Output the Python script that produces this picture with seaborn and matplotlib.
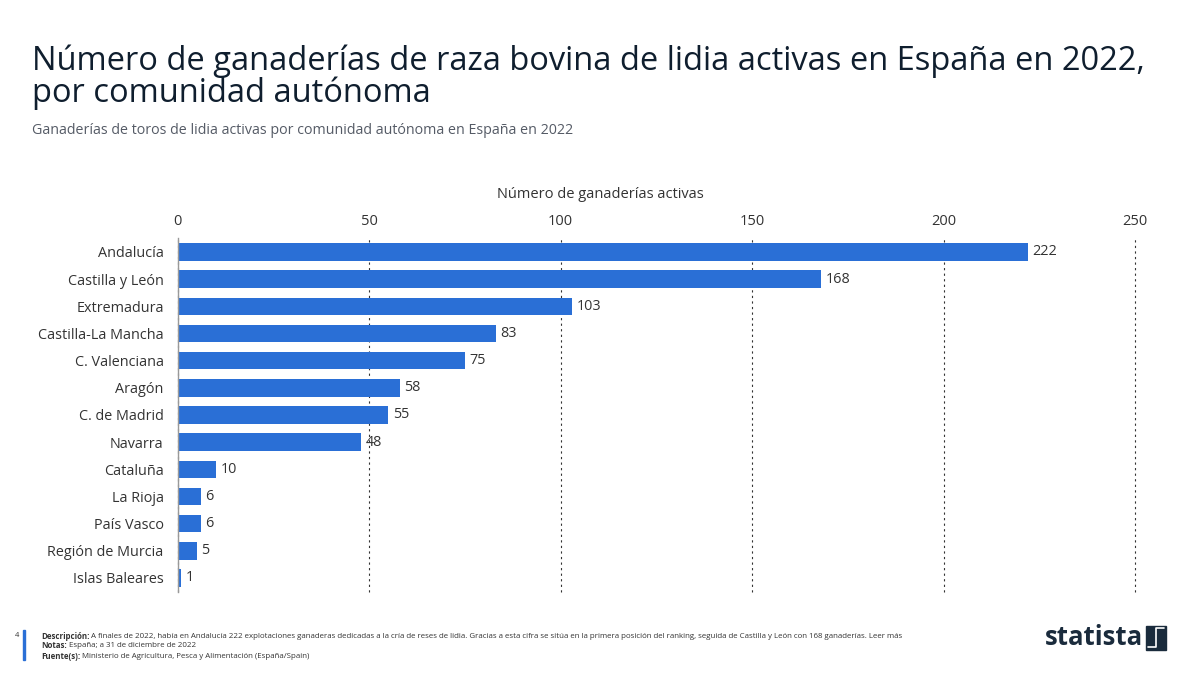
import matplotlib
matplotlib.use("Agg")
import matplotlib.pyplot as plt
import seaborn as sns
import pandas as pd

categories = ["Andalucía", "Castilla y León", "Extremadura", "Castilla-La Mancha",
              "C. Valenciana", "Aragón", "C. de Madrid", "Navarra", "Cataluña",
              "La Rioja", "País Vasco", "Región de Murcia", "Islas Baleares"]
values = [222, 168, 103, 83, 75, 58, 55, 48, 10, 6, 6, 5, 1]
x_ticks = [0, 50, 100, 150, 200, 250]

sns.set_theme(style="white")
plt.rcParams['font.family'] = ['Open Sans', 'DejaVu Sans']

df = pd.DataFrame({"cat": categories, "val": values})

fig = plt.figure(figsize=(12, 6.75), dpi=100)
ax = fig.add_axes([0.148, 0.1236, 0.798, 0.5232])

sns.barplot(data=df, x="val", y="cat", color="#2a6fd6", saturation=1,
            width=0.64, ax=ax, orient="h", linewidth=0)

ax.set_xlim(0, 250)
ax.set_xticks(x_ticks)
ax.xaxis.tick_top()
ax.xaxis.set_label_position("top")
ax.set_xlabel("Número de ganaderías activas", fontsize=10.5, color="#333333", labelpad=8)
ax.xaxis.set_label_coords(0.441, 1.115)
ax.set_ylabel("")
ax.tick_params(axis="x", length=0, labelsize=10.5, labelcolor="#333333", pad=7)
ax.tick_params(axis="y", length=0, labelsize=10.4, labelcolor="#333333", pad=10)
for s in ["top", "right", "bottom"]:
    ax.spines[s].set_visible(False)
ax.spines["left"].set_color("#999999")
ax.spines["left"].set_linewidth(1)
ax.grid(axis="x", linestyle=(0, (2, 3)), color="#333333", linewidth=0.8)
ax.grid(axis="y", visible=False)
ax.set_axisbelow(True)
for gl in ax.get_xgridlines():
    gl.set_clip_on(False)

for i, v in enumerate(values):
    ax.text(v + 1.2, i, str(v), va="center", ha="left", fontsize=10.4, color="#333333")

fig.text(0.027, 0.8855,
         "Número de ganaderías de raza bovina de lidia activas en España en 2022,\npor comunidad autónoma",
         fontsize=23.5, color="#0f1e2e", va="center", linespacing=0.92)
fig.text(0.027, 0.807, "Ganaderías de toros de lidia activas por comunidad autónoma en España en 2022",
         fontsize=10.3, color="#555b66", va="center")

fig.patches.append(plt.Rectangle((0.019, 0.0222), 0.002, 0.044, transform=fig.transFigure,
                                 color="#2a6fd6"))
fig.text(0.012, 0.058, "4", fontsize=5.5, color="#333333", va="center")

footer = [
    (0.057, "Descripción:", " A finales de 2022, había en Andalucía 222 explotaciones ganaderas dedicadas a la cría de reses de lidia. Gracias a esta cifra se sitúa en la primera posición del ranking, seguida de Castilla y León con 168 ganaderías. Leer más"),
    (0.043, "Notas:", " España; a 31 de diciembre de 2022"),
    (0.028, "Fuente(s):", " Ministerio de Agricultura, Pesca y Alimentación (España/Spain)"),
]
renderer = fig.canvas.get_renderer()
for y, bold, rest in footer:
    t = fig.text(0.034, y, bold, fontsize=5.65, color="#333333", va="center", fontweight="bold")
    bb = t.get_window_extent(renderer=renderer)
    x2 = bb.x1 / fig.bbox.width
    fig.text(x2, y, rest, fontsize=5.65, color="#333333", va="center")

fig.text(0.871, 0.055, "statista", fontsize=18.5, color="#1a2b3c", va="center", ha="left", fontweight="bold")
fig.patches.append(plt.Rectangle((0.955, 0.037), 0.0167, 0.0356, transform=fig.transFigure, color="#1a2b3c"))
fig.lines.append(plt.Line2D([0.957, 0.9635, 0.9635, 0.970], [0.041, 0.041, 0.069, 0.069],
                            transform=fig.transFigure, color="white", linewidth=1.2))

fig.savefig("out.png", dpi=100, facecolor="white")
